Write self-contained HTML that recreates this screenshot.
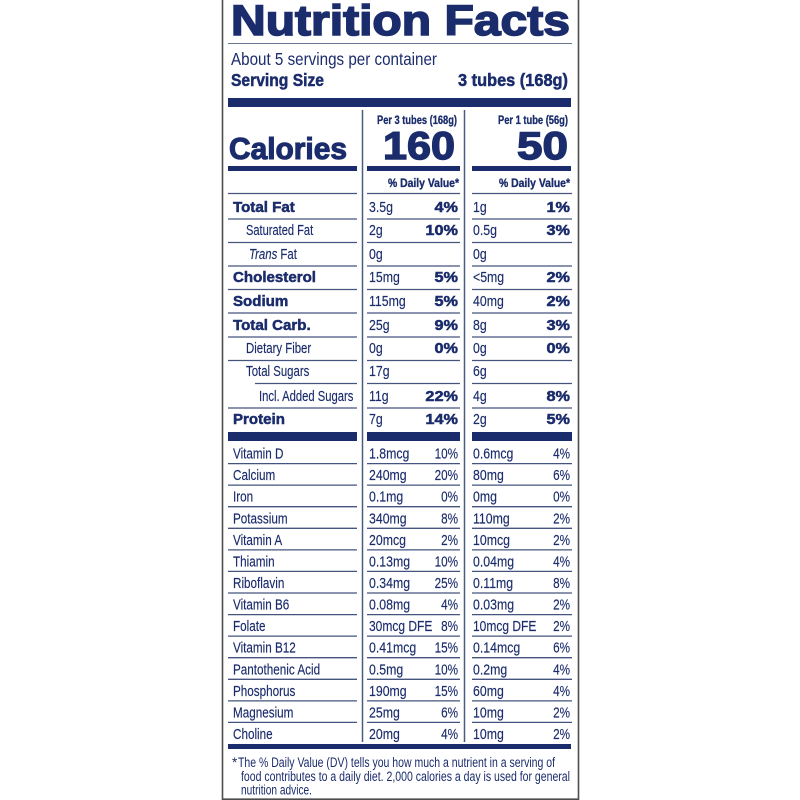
<!DOCTYPE html>
<html><head><meta charset="utf-8"><style>
html,body{margin:0;padding:0;background:#fff;}
svg{display:block;}
text{font-family:"Liberation Sans",Arial,sans-serif;fill:#1b2c6c;}
.r{font-size:15.2px;stroke:#1b2c6c;stroke-width:0.15;}
.b{font-size:14.8px;font-weight:bold;stroke:#1b2c6c;stroke-width:0.5;}
.h{font-weight:bold;stroke:#1b2c6c;}
</style></head><body>
<svg width="800" height="800" viewBox="0 0 800 800" xmlns="http://www.w3.org/2000/svg">
<rect width="800" height="800" fill="#fff"/>
<!-- border -->
<path d="M222.5 0V799.2H578.5V0" fill="none" stroke="#4d4d4d" stroke-width="1.6"/>
<!-- header -->
<text class="h" x="231" y="35" font-size="43" stroke-width="1.6" textLength="339" lengthAdjust="spacingAndGlyphs">Nutrition Facts</text>
<line x1="228" y1="43.5" x2="572" y2="43.5" stroke="#6a7390" stroke-width="1"/>
<text x="231" y="65" font-size="17.5" textLength="206" lengthAdjust="spacingAndGlyphs">About 5 servings per container</text>
<text class="h" x="231" y="86" font-size="17.5" font-weight="bold" stroke-width="0.5" textLength="93" lengthAdjust="spacingAndGlyphs">Serving Size</text>
<text class="h" x="458" y="86" font-size="17.5" font-weight="bold" stroke-width="0.5" textLength="110" lengthAdjust="spacingAndGlyphs">3 tubes (168g)</text>
<g fill="#1b2c6c">
<rect x="228" y="98" width="343" height="9"/>
<rect x="228" y="166" width="129" height="5"/>
<rect x="367" y="166" width="93" height="5"/>
<rect x="472" y="166" width="99" height="5"/>
<rect x="228" y="432" width="129" height="9"/>
<rect x="367" y="432" width="93" height="9"/>
<rect x="472" y="432" width="100" height="9"/>
<rect x="228" y="744" width="343" height="5"/>
</g>
<!-- vertical dividers -->
<path d="M362.5 110V742M464.5 110V742" stroke="#4a5a80" stroke-width="1.5"/>
<!-- column headers -->
<text class="h" x="377" y="124" font-size="11.5" font-weight="bold" stroke-width="0.3" textLength="80" lengthAdjust="spacingAndGlyphs">Per 3 tubes (168g)</text>
<text class="h" x="498" y="124" font-size="11.5" font-weight="bold" stroke-width="0.3" textLength="70" lengthAdjust="spacingAndGlyphs">Per 1 tube (56g)</text>
<text class="h" x="383" y="159" font-size="39" font-weight="bold" stroke-width="1.4" textLength="72" lengthAdjust="spacingAndGlyphs">160</text>
<text class="h" x="517" y="159" font-size="39" font-weight="bold" stroke-width="1.4" textLength="51" lengthAdjust="spacingAndGlyphs">50</text>
<text class="h" x="229" y="159" font-size="31" font-weight="bold" stroke-width="1.1" textLength="118" lengthAdjust="spacingAndGlyphs">Calories</text>
<text class="h" x="388" y="187" font-size="12" font-weight="bold" stroke-width="0.35" textLength="71" lengthAdjust="spacingAndGlyphs">% Daily Value*</text>
<text class="h" x="499" y="187" font-size="12" font-weight="bold" stroke-width="0.35" textLength="71" lengthAdjust="spacingAndGlyphs">% Daily Value*</text>
<!-- thin rules -->
<path fill="none" stroke="#44547e" stroke-width="1.3" d="
M228 193.5H357M367 193.5H460M472 193.5H572
M228 219H357M367 219H460M472 219H572
M228 242.5H357M367 242.5H460M472 242.5H572
M228 266H357M367 266H460M472 266H572
M228 289.5H357M367 289.5H460M472 289.5H572
M228 313H357M367 313H460M472 313H572
M228 337H357M367 337H460M472 337H572
M228 360.5H357M367 360.5H460M472 360.5H572
M255 383.5H357M367 383.5H460M472 383.5H572
M228 408H357M367 408H460M472 408H572
M228 463.6H357M367 463.6H460M472 463.6H572
M228 485.1H357M367 485.1H460M472 485.1H572
M228 506.7H357M367 506.7H460M472 506.7H572
M228 528.3H357M367 528.3H460M472 528.3H572
M228 549.9H357M367 549.9H460M472 549.9H572
M228 571.4H357M367 571.4H460M472 571.4H572
M228 593H357M367 593H460M472 593H572
M228 614.6H357M367 614.6H460M472 614.6H572
M228 636.1H357M367 636.1H460M472 636.1H572
M228 657.7H357M367 657.7H460M472 657.7H572
M228 679.3H357M367 679.3H460M472 679.3H572
M228 700.9H357M367 700.9H460M472 700.9H572
M228 722.4H357M367 722.4H460M472 722.4H572"/>

<!-- nutrient rows -->
<text class="b" transform="translate(233 212) scale(1.02 1)">Total Fat</text>
<text class="r" transform="translate(369 212) scale(.81 1)">3.5g</text>
<text class="b" text-anchor="end" transform="translate(458 212) scale(1.1 1)">4%</text>
<text class="r" transform="translate(473 212) scale(.81 1)">1g</text>
<text class="b" text-anchor="end" transform="translate(570 212) scale(1.1 1)">1%</text>

<text class="r" transform="translate(246 235) scale(.73 1)">Saturated Fat</text>
<text class="r" transform="translate(369 235) scale(.81 1)">2g</text>
<text class="b" text-anchor="end" transform="translate(458 235) scale(1.1 1)">10%</text>
<text class="r" transform="translate(473 235) scale(.81 1)">0.5g</text>
<text class="b" text-anchor="end" transform="translate(570 235) scale(1.1 1)">3%</text>

<text class="r" transform="translate(249 259) scale(.75 1)"><tspan font-style="italic">Trans</tspan> Fat</text>
<text class="r" transform="translate(369 259) scale(.81 1)">0g</text>
<text class="r" transform="translate(473 259) scale(.81 1)">0g</text>

<text class="b" transform="translate(233 282) scale(1.02 1)">Cholesterol</text>
<text class="r" transform="translate(369 282) scale(.81 1)">15mg</text>
<text class="b" text-anchor="end" transform="translate(458 282) scale(1.1 1)">5%</text>
<text class="r" transform="translate(473 282) scale(.81 1)">&lt;5mg</text>
<text class="b" text-anchor="end" transform="translate(570 282) scale(1.1 1)">2%</text>

<text class="b" transform="translate(233 306) scale(1.02 1)">Sodium</text>
<text class="r" transform="translate(369 306) scale(.81 1)">115mg</text>
<text class="b" text-anchor="end" transform="translate(458 306) scale(1.1 1)">5%</text>
<text class="r" transform="translate(473 306) scale(.81 1)">40mg</text>
<text class="b" text-anchor="end" transform="translate(570 306) scale(1.1 1)">2%</text>

<text class="b" transform="translate(233 330) scale(1.02 1)">Total Carb.</text>
<text class="r" transform="translate(369 330) scale(.81 1)">25g</text>
<text class="b" text-anchor="end" transform="translate(458 330) scale(1.1 1)">9%</text>
<text class="r" transform="translate(473 330) scale(.81 1)">8g</text>
<text class="b" text-anchor="end" transform="translate(570 330) scale(1.1 1)">3%</text>

<text class="r" transform="translate(246 353) scale(.75 1)">Dietary Fiber</text>
<text class="r" transform="translate(369 353) scale(.81 1)">0g</text>
<text class="b" text-anchor="end" transform="translate(458 353) scale(1.1 1)">0%</text>
<text class="r" transform="translate(473 353) scale(.81 1)">0g</text>
<text class="b" text-anchor="end" transform="translate(570 353) scale(1.1 1)">0%</text>

<text class="r" transform="translate(246 376) scale(.75 1)">Total Sugars</text>
<text class="r" transform="translate(369 376) scale(.81 1)">17g</text>
<text class="r" transform="translate(473 376) scale(.81 1)">6g</text>

<text class="r" transform="translate(259 401) scale(.74 1)">Incl. Added Sugars</text>
<text class="r" transform="translate(369 401) scale(.81 1)">11g</text>
<text class="b" text-anchor="end" transform="translate(458 401) scale(1.1 1)">22%</text>
<text class="r" transform="translate(473 401) scale(.81 1)">4g</text>
<text class="b" text-anchor="end" transform="translate(570 401) scale(1.1 1)">8%</text>

<text class="b" transform="translate(233 424) scale(1.02 1)">Protein</text>
<text class="r" transform="translate(369 424) scale(.81 1)">7g</text>
<text class="b" text-anchor="end" transform="translate(458 424) scale(1.1 1)">14%</text>
<text class="r" transform="translate(473 424) scale(.81 1)">2g</text>
<text class="b" text-anchor="end" transform="translate(570 424) scale(1.1 1)">5%</text>

<!-- vitamins -->
<g>
<text class="r" transform="translate(233 458.6) scale(.77 1)">Vitamin D</text>
<text class="r" transform="translate(369 458.6) scale(.81 1)">1.8mcg</text>
<text class="r" text-anchor="end" transform="translate(458 458.6) scale(.77 1)">10%</text>
<text class="r" transform="translate(473 458.6) scale(.81 1)">0.6mcg</text>
<text class="r" text-anchor="end" transform="translate(570 458.6) scale(.77 1)">4%</text>

<text class="r" transform="translate(233 480.1) scale(.77 1)">Calcium</text>
<text class="r" transform="translate(369 480.1) scale(.81 1)">240mg</text>
<text class="r" text-anchor="end" transform="translate(458 480.1) scale(.77 1)">20%</text>
<text class="r" transform="translate(473 480.1) scale(.81 1)">80mg</text>
<text class="r" text-anchor="end" transform="translate(570 480.1) scale(.77 1)">6%</text>

<text class="r" transform="translate(233 501.7) scale(.77 1)">Iron</text>
<text class="r" transform="translate(369 501.7) scale(.81 1)">0.1mg</text>
<text class="r" text-anchor="end" transform="translate(458 501.7) scale(.77 1)">0%</text>
<text class="r" transform="translate(473 501.7) scale(.81 1)">0mg</text>
<text class="r" text-anchor="end" transform="translate(570 501.7) scale(.77 1)">0%</text>

<text class="r" transform="translate(233 523.3) scale(.77 1)">Potassium</text>
<text class="r" transform="translate(369 523.3) scale(.81 1)">340mg</text>
<text class="r" text-anchor="end" transform="translate(458 523.3) scale(.77 1)">8%</text>
<text class="r" transform="translate(473 523.3) scale(.81 1)">110mg</text>
<text class="r" text-anchor="end" transform="translate(570 523.3) scale(.77 1)">2%</text>

<text class="r" transform="translate(233 544.9) scale(.77 1)">Vitamin A</text>
<text class="r" transform="translate(369 544.9) scale(.81 1)">20mcg</text>
<text class="r" text-anchor="end" transform="translate(458 544.9) scale(.77 1)">2%</text>
<text class="r" transform="translate(473 544.9) scale(.81 1)">10mcg</text>
<text class="r" text-anchor="end" transform="translate(570 544.9) scale(.77 1)">2%</text>

<text class="r" transform="translate(233 566.4) scale(.77 1)">Thiamin</text>
<text class="r" transform="translate(369 566.4) scale(.81 1)">0.13mg</text>
<text class="r" text-anchor="end" transform="translate(458 566.4) scale(.77 1)">10%</text>
<text class="r" transform="translate(473 566.4) scale(.81 1)">0.04mg</text>
<text class="r" text-anchor="end" transform="translate(570 566.4) scale(.77 1)">4%</text>

<text class="r" transform="translate(233 588) scale(.77 1)">Riboflavin</text>
<text class="r" transform="translate(369 588) scale(.81 1)">0.34mg</text>
<text class="r" text-anchor="end" transform="translate(458 588) scale(.77 1)">25%</text>
<text class="r" transform="translate(473 588) scale(.81 1)">0.11mg</text>
<text class="r" text-anchor="end" transform="translate(570 588) scale(.77 1)">8%</text>

<text class="r" transform="translate(233 609.6) scale(.77 1)">Vitamin B6</text>
<text class="r" transform="translate(369 609.6) scale(.81 1)">0.08mg</text>
<text class="r" text-anchor="end" transform="translate(458 609.6) scale(.77 1)">4%</text>
<text class="r" transform="translate(473 609.6) scale(.81 1)">0.03mg</text>
<text class="r" text-anchor="end" transform="translate(570 609.6) scale(.77 1)">2%</text>

<text class="r" transform="translate(233 631.1) scale(.77 1)">Folate</text>
<text class="r" transform="translate(369 631.1) scale(.79 1)">30mcg DFE</text>
<text class="r" text-anchor="end" transform="translate(458 631.1) scale(.77 1)">8%</text>
<text class="r" transform="translate(473 631.1) scale(.79 1)">10mcg DFE</text>
<text class="r" text-anchor="end" transform="translate(570 631.1) scale(.77 1)">2%</text>

<text class="r" transform="translate(233 652.7) scale(.77 1)">Vitamin B12</text>
<text class="r" transform="translate(369 652.7) scale(.81 1)">0.41mcg</text>
<text class="r" text-anchor="end" transform="translate(458 652.7) scale(.77 1)">15%</text>
<text class="r" transform="translate(473 652.7) scale(.81 1)">0.14mcg</text>
<text class="r" text-anchor="end" transform="translate(570 652.7) scale(.77 1)">6%</text>

<text class="r" transform="translate(233 674.3) scale(.77 1)">Pantothenic Acid</text>
<text class="r" transform="translate(369 674.3) scale(.81 1)">0.5mg</text>
<text class="r" text-anchor="end" transform="translate(458 674.3) scale(.77 1)">10%</text>
<text class="r" transform="translate(473 674.3) scale(.81 1)">0.2mg</text>
<text class="r" text-anchor="end" transform="translate(570 674.3) scale(.77 1)">4%</text>

<text class="r" transform="translate(233 695.9) scale(.77 1)">Phosphorus</text>
<text class="r" transform="translate(369 695.9) scale(.81 1)">190mg</text>
<text class="r" text-anchor="end" transform="translate(458 695.9) scale(.77 1)">15%</text>
<text class="r" transform="translate(473 695.9) scale(.81 1)">60mg</text>
<text class="r" text-anchor="end" transform="translate(570 695.9) scale(.77 1)">4%</text>

<text class="r" transform="translate(233 717.4) scale(.77 1)">Magnesium</text>
<text class="r" transform="translate(369 717.4) scale(.81 1)">25mg</text>
<text class="r" text-anchor="end" transform="translate(458 717.4) scale(.77 1)">6%</text>
<text class="r" transform="translate(473 717.4) scale(.81 1)">10mg</text>
<text class="r" text-anchor="end" transform="translate(570 717.4) scale(.77 1)">2%</text>

<text class="r" transform="translate(233 739) scale(.77 1)">Choline</text>
<text class="r" transform="translate(369 739) scale(.81 1)">20mg</text>
<text class="r" text-anchor="end" transform="translate(458 739) scale(.77 1)">4%</text>
<text class="r" transform="translate(473 739) scale(.81 1)">10mg</text>
<text class="r" text-anchor="end" transform="translate(570 739) scale(.77 1)">2%</text>
</g>

<!-- footnote -->
<text x="232" y="767" font-size="13.5">*</text>
<text x="238" y="767" font-size="13.5" textLength="317" lengthAdjust="spacingAndGlyphs">The % Daily Value (DV) tells you how much a nutrient in a serving of</text>
<text x="241" y="781" font-size="13.5" textLength="329" lengthAdjust="spacingAndGlyphs">food contributes to a daily diet. 2,000 calories a day is used for general</text>
<text x="241" y="794.5" font-size="13.5" textLength="71" lengthAdjust="spacingAndGlyphs">nutrition advice.</text>
</svg>
</body></html>
